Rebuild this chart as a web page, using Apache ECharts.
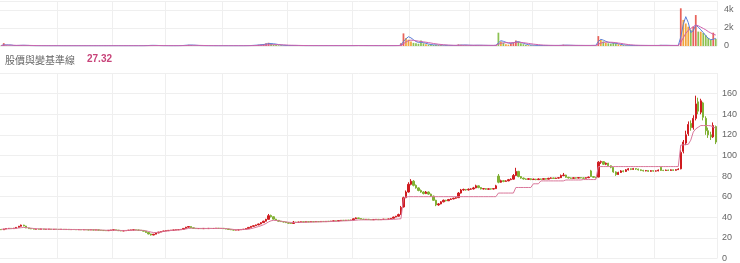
<!DOCTYPE html>
<html><head><meta charset="utf-8">
<script src="https://cdn.jsdelivr.net/npm/echarts/dist/echarts.min.js"></script>
<style>html,body{margin:0;padding:0;background:#fff}#c{width:740px;height:263px}</style>
</head><body><div id="c"></div>
<script>
const years = [2013,2014,2015,2016,2017,2018,2019,2020,2021,2022,2023,2024];
const periodsPerYear = [23,22,21,23,26,26,23,24,25,26,23,25];
const titleText = '股價與變基準線';
const titleValue = '27.32';
const volTicks = {min:0, max:5000, step:2000};
const priceTicks = {min:0, max:180, step:20};

// [open, close, low, high]
const ohlc = [
// y0
[28.2,27.9,27.6,28.4],[27.9,28.6,27.8,28.8],[28.6,29.1,28.4,29.3],[29.0,29.3,28.8,29.6],[29.3,29.0,28.8,29.5],[29.0,29.4,28.9,29.7],[29.4,30.2,29.2,30.5],[30.2,31.3,30.0,31.6],[31.3,32.4,31.0,32.9],[32.4,31.6,31.2,32.7],[31.5,29.7,29.4,31.7],[29.7,29.0,28.8,29.9],[29.0,28.8,28.5,29.2],[28.8,28.5,28.3,29.0],[28.5,28.6,28.3,28.9],[28.6,28.4,28.2,28.8],[28.4,28.7,28.3,28.9],[28.7,28.3,28.1,28.8],[28.3,28.4,28.1,28.6],[28.4,28.5,28.2,28.7],[28.5,28.2,28.0,28.6],[28.2,28.4,28.1,28.6],[28.4,28.3,28.1,28.5],
// y1
[28.3,28.2,28.0,28.5],[28.2,28.4,28.1,28.6],[28.4,28.1,27.9,28.5],[28.1,28.3,28.0,28.5],[28.3,28.0,27.8,28.4],[28.0,28.2,27.9,28.4],[28.2,28.1,27.9,28.3],[28.1,27.9,27.7,28.2],[27.9,28.1,27.8,28.3],[28.1,27.8,27.6,28.2],[27.8,28.0,27.7,28.2],[28.0,27.9,27.7,28.1],[27.9,27.7,27.5,28.0],[27.7,27.9,27.6,28.1],[27.9,27.6,27.4,28.0],[27.6,27.8,27.5,28.0],[27.8,27.5,27.3,27.9],[27.5,27.3,27.1,27.6],[27.3,27.1,26.9,27.4],[27.1,27.0,26.7,27.3],[27.0,27.3,26.9,27.5],[27.3,27.6,27.2,27.8],
// y2
[27.6,27.8,27.4,28.0],[27.8,27.5,27.3,27.9],[27.5,27.0,26.8,27.6],[27.0,26.8,26.5,27.1],[26.8,26.9,26.6,27.1],[26.9,27.2,26.8,27.4],[27.2,27.5,27.1,27.7],[27.5,27.7,27.4,27.9],[27.7,27.8,27.5,28.0],[27.8,27.6,27.4,27.9],[27.6,27.5,27.3,27.8],[27.5,27.2,27.0,27.6],[27.2,26.5,26.3,27.3],[26.5,25.2,25.0,26.6],[25.2,23.8,23.5,25.4],[23.8,22.8,22.3,24.0],[22.8,23.6,22.6,23.8],[23.6,24.8,23.5,25.0],[24.8,25.6,24.6,25.8],[25.6,26.2,25.4,26.4],[26.2,26.7,26.0,26.9],
// y3
[26.7,27.0,26.5,27.2],[27.0,27.3,26.9,27.5],[27.3,27.5,27.1,27.7],[27.5,27.6,27.3,27.8],[27.6,27.9,27.5,28.1],[27.9,28.0,27.7,28.2],[28.0,28.3,27.9,28.5],[28.3,29.2,28.2,29.4],[29.2,30.4,29.0,30.7],[30.4,31.0,30.1,31.4],[31.0,29.8,29.6,31.1],[29.8,29.2,29.0,30.0],[29.2,29.0,28.8,29.4],[29.0,29.1,28.8,29.3],[29.1,28.9,28.7,29.2],[28.9,29.2,28.8,29.4],[29.2,29.0,28.8,29.3],[29.0,29.3,28.9,29.5],[29.3,29.1,28.9,29.4],[29.1,29.2,28.9,29.4],[29.2,29.4,29.1,29.6],[29.4,29.1,28.9,29.5],[29.1,29.3,29.0,29.5],
// y4
[29.3,29.0,28.8,29.4],[29.0,28.6,28.4,29.1],[28.6,28.2,28.0,28.7],[28.2,27.8,27.6,28.3],[27.8,27.6,27.3,27.9],[27.6,27.7,27.4,27.9],[27.7,27.9,27.5,28.1],[27.9,28.2,27.8,28.4],[28.2,28.4,28.0,28.6],[28.4,29.0,28.3,29.2],[29.0,30.2,28.9,30.5],[30.2,31.2,30.0,31.5],[31.2,31.8,30.9,32.1],[31.8,32.6,31.5,32.9],[32.6,33.5,32.3,33.8],[33.5,34.8,33.2,35.2],[34.8,36.2,34.5,36.6],[36.2,38.0,35.9,38.5],[38.0,41.5,37.8,43.2],[41.8,40.5,39.8,42.6],[40.5,38.2,37.8,40.8],[38.2,37.0,36.6,38.5],[37.0,36.2,35.8,37.3],[36.2,35.8,35.4,36.5],[35.8,35.4,35.0,36.1],[35.4,34.8,34.4,35.6],
// y5
[34.8,34.2,33.9,35.0],[34.2,34.0,33.6,34.4],[34.0,35.3,33.9,36.4],[35.3,35.0,34.8,35.6],[35.0,35.4,34.9,35.6],[35.4,35.6,35.2,35.8],[35.6,35.3,35.1,35.7],[35.3,35.7,35.2,35.9],[35.7,35.5,35.3,35.8],[35.5,35.8,35.4,36.0],[35.8,35.6,35.4,35.9],[35.6,35.9,35.5,36.1],[35.9,35.7,35.5,36.0],[35.7,36.0,35.6,36.2],[36.0,35.8,35.6,36.1],[35.8,36.1,35.7,36.3],[36.1,36.0,35.8,36.3],[36.0,36.3,35.9,36.5],[36.3,36.5,36.1,36.7],[36.5,36.4,36.2,36.7],[36.4,36.8,36.3,37.0],[36.8,37.1,36.6,37.3],[37.1,36.9,36.7,37.2],[36.9,37.2,36.8,37.4],[37.2,37.0,36.8,37.3],[37.0,37.3,36.9,37.6],
// y6
[37.3,38.5,37.2,38.8],[38.5,39.4,38.3,39.9],[39.4,38.8,38.5,39.6],[38.8,38.2,38.0,39.0],[38.2,37.9,37.6,38.4],[37.9,38.1,37.7,38.3],[38.1,37.8,37.6,38.2],[37.8,37.6,37.4,38.0],[37.6,37.9,37.5,38.1],[37.9,38.0,37.7,38.2],[38.0,37.7,37.5,38.1],[37.7,37.9,37.6,38.1],[37.9,38.2,37.8,38.4],[38.2,38.0,37.8,38.3],[38.0,38.4,37.9,38.6],[38.4,39.0,38.3,39.3],[39.0,40.2,38.9,40.6],[40.2,41.0,40.0,41.4],[41.0,42.6,40.8,43.5],[42.6,49.5,42.4,51.0],[50.0,59.0,49.5,60.0],[59.0,64.5,58.5,66.0],[64.5,72.0,64.0,74.0],
// y7
[72.0,75.0,71.0,77.0],[75.0,71.0,70.0,76.0],[71.0,68.5,67.8,71.8],[68.5,66.0,65.2,69.0],[66.0,64.5,63.8,67.0],[64.5,63.0,62.2,65.2],[63.0,64.5,62.5,65.5],[64.5,62.5,61.8,65.0],[62.5,60.5,59.8,63.0],[60.5,56.5,56.0,61.0],[56.5,52.0,50.8,57.0],[52.0,53.0,51.2,53.8],[53.0,55.0,52.6,55.6],[55.0,56.5,54.5,57.2],[56.5,56.0,55.4,57.0],[56.0,57.2,55.8,57.8],[57.2,57.8,56.8,58.4],[57.8,58.5,57.4,59.0],[58.5,59.0,58.0,59.8],[59.0,63.5,58.8,64.5],[63.5,66.5,63.0,67.5],[66.5,67.0,65.8,67.8],[67.0,66.5,65.8,67.5],[66.5,67.2,66.0,68.0],
// y8
[67.2,67.5,66.6,68.2],[67.5,68.5,67.0,69.5],[68.5,70.5,68.2,71.6],[70.5,68.8,68.2,70.8],[68.8,67.5,67.0,69.2],[67.5,67.8,67.0,68.4],[67.8,67.2,66.6,68.2],[67.2,67.6,66.8,68.2],[67.6,67.4,66.8,68.0],[67.4,67.8,67.0,68.4],[67.8,70.5,67.4,71.5],[80.0,74.0,73.0,82.0],[74.0,75.5,73.5,76.5],[75.5,74.8,74.0,76.2],[74.8,75.3,74.4,76.0],[75.3,76.5,75.0,77.2],[76.5,77.0,76.0,77.8],[77.0,80.5,76.6,82.0],[80.5,84.5,80.0,88.0],[84.5,79.5,78.8,85.0],[79.5,78.0,77.4,80.0],[78.0,77.2,76.6,78.5],[77.2,76.8,76.2,77.6],[76.8,77.4,76.4,78.0],[77.4,76.6,76.0,77.8],
// y9
[76.6,77.0,76.2,77.5],[77.0,76.5,76.0,77.3],[76.5,77.2,76.2,77.8],[77.2,76.8,76.3,77.5],[76.8,77.5,76.5,78.0],[77.5,77.0,76.6,77.8],[77.0,77.8,76.8,78.3],[77.8,78.2,77.4,78.8],[78.2,77.6,77.2,78.5],[77.6,78.0,77.3,78.5],[78.0,78.4,77.6,79.0],[78.4,80.5,78.2,81.5],[80.5,81.0,79.8,83.0],[81.0,78.8,78.3,81.3],[78.8,78.2,77.6,79.2],[78.2,77.8,77.3,78.6],[77.8,78.3,77.5,78.8],[78.3,78.0,77.5,78.6],[78.0,78.5,77.7,79.0],[78.5,78.2,77.8,78.8],[78.2,77.9,77.4,78.6],[77.9,78.4,77.6,78.8],[78.4,79.0,78.0,79.5],[85.0,79.5,79.0,86.0],[79.5,78.8,78.2,80.0],[78.8,78.4,77.8,79.2],
// y10
[79.0,93.5,78.8,94.5],[93.5,94.0,91.8,95.0],[94.0,91.5,90.8,94.4],[91.5,92.5,90.6,93.2],[92.5,90.0,89.4,92.8],[90.0,88.5,87.6,90.4],[88.5,84.0,83.2,88.8],[84.0,81.5,80.2,84.6],[81.5,83.5,81.0,84.2],[83.5,85.0,83.0,85.8],[85.0,84.5,83.6,85.6],[84.5,86.0,84.0,86.8],[86.0,87.0,85.4,87.8],[87.0,86.5,85.8,87.4],[86.5,87.2,86.0,87.9],[87.2,86.8,86.0,87.6],[86.8,86.0,85.4,87.2],[86.0,85.5,84.8,86.4],[85.5,85.0,84.4,86.0],[85.0,85.3,84.6,85.9],[85.3,84.6,84.0,85.6],[84.6,85.2,84.2,85.8],[85.2,84.8,84.2,85.6],
// y11
[84.8,85.0,84.3,85.6],[85.0,85.8,84.6,86.4],[88.5,85.5,85.0,89.0],[85.5,85.4,84.8,86.0],[85.4,85.8,85.0,86.3],[85.8,85.5,85.0,86.2],[85.5,86.0,85.1,86.5],[86.0,85.6,85.0,86.3],[85.6,86.2,85.2,86.8],[86.2,86.8,85.9,87.6],
[87.0,103.0,86.5,105.0],[104.0,113.0,102.0,115.0],[112.0,120.0,110.0,124.0],[121.0,130.0,119.0,133.0],[131.0,127.0,124.0,134.0],[127.0,136.0,125.0,139.0],[136.0,150.0,134.0,158.0],[152.0,143.0,140.0,156.0],[142.0,153.0,140.0,155.0],[151.0,137.0,134.0,152.0],[136.0,124.0,120.0,138.0],[124.0,120.0,117.0,127.0],[120.0,118.0,115.0,123.0],[118.0,129.0,117.0,132.0],[128.0,113.0,111.0,129.0]
];

const baseline = [
28.3,28.5,28.7,28.9,29.0,29.1,29.3,29.6,29.9,30.1,30.0,29.7,29.4,29.1,28.9,28.8,28.7,28.6,28.6,28.5,28.5,28.4,28.4,
28.3,28.3,28.2,28.2,28.2,28.1,28.1,28.1,28.0,28.0,28.0,27.9,27.9,27.9,27.8,27.8,27.7,27.6,27.5,27.4,27.4,27.5,
27.5,27.4,27.3,27.2,27.2,27.2,27.3,27.4,27.5,27.5,27.5,27.4,27.2,26.8,26.2,25.6,25.2,25.2,25.4,25.8,26.2,
26.6,26.9,27.2,27.4,27.6,27.8,28.0,28.3,28.7,29.2,29.4,29.4,29.3,29.2,29.2,29.2,29.1,29.1,29.1,29.1,29.2,29.2,29.2,
29.1,29.0,28.8,28.5,28.2,28.0,28.0,28.0,28.1,28.2,28.5,29.0,29.6,30.3,31.0,31.8,32.8,34.0,35.5,36.6,37.0,36.9,36.6,36.2,35.8,35.5,
35.2,35.0,34.9,34.9,35.0,35.1,35.2,35.2,35.3,35.4,35.4,35.5,35.5,35.6,35.7,35.7,35.8,35.9,36.0,36.1,36.2,36.4,36.5,36.6,36.7,36.8,
37.0,37.2,37.4,37.5,37.5,37.5,37.5,37.5,37.5,37.6,37.6,37.6,37.7,37.7,37.8,37.9,38.0,38.2,38.4,38.6,58.5,59.6,60.0,
60.0,60.0,60.0,60.0,60.0,60.0,60.0,60.0,60.0,60.0,60.0,60.0,60.0,60.0,60.0,60.0,60.0,60.0,60.0,60.0,60.0,60.0,60.0,60.0,
60.0,60.0,60.0,60.0,60.0,60.0,60.0,60.0,60.0,60.0,60.0,63.5,63.5,63.5,63.5,63.5,63.5,63.5,68.9,68.9,68.9,68.9,68.9,68.9,68.9,
72.5,72.5,72.5,75.3,75.3,75.3,75.3,75.3,75.3,75.3,75.3,75.3,75.3,76.2,76.2,76.2,76.2,76.2,76.2,76.2,76.6,76.6,76.6,76.6,76.6,76.6,
89.2,89.2,89.2,89.2,89.2,89.2,89.2,89.2,89.2,89.2,89.2,89.2,89.2,89.2,89.2,89.2,89.2,89.2,89.2,89.2,89.2,89.2,89.2,
89.2,89.2,89.2,89.2,89.2,89.2,89.2,89.2,89.2,89.2,110.0,110.3,110.5,110.8,114.8,122.7,125.8,127.4,129.0,129.0,129.0,129.0,128.8,127.5,126.5
];

const volume = [
60,320,80,50,40,40,60,80,90,70,50,40,30,30,30,30,30,30,30,30,30,30,30,
30,25,30,25,30,25,30,25,30,25,30,25,30,25,30,25,30,25,30,30,35,30,
30,30,35,30,30,30,30,30,30,30,30,30,40,60,80,90,60,50,40,35,30,
30,30,30,30,30,40,50,80,120,140,100,60,40,35,30,30,30,30,30,30,30,30,30,
30,30,30,30,30,30,30,30,30,40,60,80,100,120,150,180,220,300,360,250,160,120,90,70,60,50,
50,60,80,50,40,40,40,40,40,40,40,40,40,40,40,40,40,40,40,40,40,40,40,40,40,40,
50,70,50,40,40,40,40,40,40,40,40,40,40,40,40,40,50,60,80,300,1400,900,700,
500,350,300,250,600,300,200,150,150,120,150,120,100,80,70,60,60,60,60,180,150,100,80,70,
70,80,120,90,70,60,60,60,60,60,100,1480,500,350,200,150,300,400,600,500,300,200,120,100,80,
70,60,60,60,60,60,60,60,60,60,70,100,150,90,70,60,60,60,60,60,60,60,60,60,80,70,
1100,700,500,350,300,250,350,300,200,150,100,80,70,60,60,60,60,60,60,60,60,60,60,
60,60,120,70,60,60,60,60,60,80,4190,2900,2500,2150,1800,2150,3440,1600,1590,1450,1200,900,700,1480,800
];

const volMaShort = [
60,120,130,120,110,60,55,65,75,80,70,60,45,35,30,30,30,30,30,30,30,30,30,
30,28,28,28,28,28,28,28,28,28,28,28,28,28,28,28,28,28,28,29,31,31,
31,31,32,31,30,30,30,30,30,30,30,30,32,40,55,70,72,66,56,45,36,
32,30,30,30,32,36,45,60,84,100,110,100,80,60,45,35,30,30,30,30,30,30,30,
30,30,30,30,30,30,30,30,30,33,40,55,70,90,110,140,170,210,260,270,250,210,160,115,85,65,
55,55,60,60,55,50,45,40,40,40,40,40,40,40,40,40,40,40,40,40,40,40,40,40,40,40,
42,48,50,50,48,45,40,40,40,40,40,40,40,40,40,40,42,45,55,100,500,800,1030,
900,700,500,400,420,380,300,220,160,130,120,110,100,90,80,70,65,60,60,80,100,110,110,95,
80,75,80,85,80,75,70,65,62,62,70,350,590,520,420,320,300,350,450,480,400,300,220,150,110,
90,75,65,62,60,60,60,60,60,60,62,70,85,95,90,80,70,62,60,60,60,60,60,60,65,68,
500,740,650,520,420,350,330,300,250,180,130,100,80,70,62,60,60,60,60,60,60,60,60,
60,60,75,75,75,70,62,60,60,65,1000,2400,3260,2600,1500,1700,2330,2100,1800,1500,1150,850,700,750,850
];

const volMaLong = [
50,80,90,90,90,80,70,68,68,70,70,68,62,55,48,42,38,35,33,32,31,30,30,
30,30,29,29,29,28,28,28,28,28,28,28,28,28,28,28,28,28,28,28,29,29,
30,30,30,30,30,30,30,30,30,30,30,30,31,34,38,44,48,50,50,48,45,
42,40,38,36,35,35,37,42,50,60,68,72,72,70,65,58,52,45,40,36,33,31,30,
30,30,30,30,30,30,30,30,30,31,34,38,44,52,62,74,88,105,125,140,148,150,145,135,122,108,
95,85,78,72,66,60,55,50,47,45,43,42,41,40,40,40,40,40,40,40,40,40,40,40,40,40,
41,43,44,45,45,45,44,43,42,41,40,40,40,40,40,40,41,42,45,60,250,450,600,
650,620,580,540,500,460,420,380,330,280,240,200,170,140,120,100,90,80,75,75,78,80,82,82,
80,78,78,78,77,76,74,72,70,68,80,200,300,350,370,370,360,370,400,420,400,370,330,290,250,
210,180,150,120,100,90,80,72,68,65,64,65,68,72,74,74,72,70,68,66,64,62,62,62,63,64,
200,320,400,430,430,420,400,370,330,290,250,200,160,130,110,90,80,72,68,65,62,60,60,
60,60,62,64,64,64,63,62,62,62,400,900,1400,1750,1950,2150,2330,2250,2100,1950,1800,1600,1450,1300,1220
];

// ---- build ----
const categories = [];
years.forEach((y, k) => { for (let j = 1; j <= periodsPerYear[k]; j++) categories.push(y + '-' + j); });
const isYearStart = (idx, val) => idx > 0 && String(val).split('-')[1] === '1';

const UP = '#cf1b1f', DOWN = '#80b034';
const VOL_UP = '#e8625a', VOL_UP_LESS = '#f2a33a', VOL_DOWN = '#8cc152';
const volData = volume.map((v, i) => {
  const o = ohlc[i][0], c = ohlc[i][1];
  let col;
  if (c < o) col = VOL_DOWN;
  else if (i > 0 && v < volume[i - 1]) col = VOL_UP_LESS;
  else col = VOL_UP;
  return { value: v, itemStyle: { color: col } };
});

const gridColor = '#efefef';
const xBase = (gi) => ({
  type: 'category', gridIndex: gi, data: categories, boundaryGap: true,
  axisLine: { show: false }, axisTick: { show: false }, axisLabel: { show: false },
  splitLine: { show: true, interval: isYearStart, lineStyle: { color: gridColor, width: 1 } }
});

const chart = echarts.init(document.getElementById('c'), null, { renderer: 'canvas' });
chart.setOption({
  animation: false,
  backgroundColor: '#fff',
  grid: [
    { left: 0, right: 23, top: 1, height: 45 },
    { left: 0, right: 23, top: 73, bottom: 1 }
  ],
  xAxis: [xBase(0), xBase(1)],
  yAxis: [
    { gridIndex: 0, position: 'right', min: volTicks.min, max: volTicks.max, interval: volTicks.step,
      axisLine: { show: false }, axisTick: { show: false },
      splitLine: { lineStyle: { color: gridColor } },
      axisLabel: { fontSize: 9, color: '#666', margin: 7, showMaxLabel: false, fontFamily: 'Arial, Liberation Sans, sans-serif',
        formatter: v => v === 0 ? '0' : (v / 1000) + 'k' } },
    { gridIndex: 1, position: 'right', min: priceTicks.min, max: priceTicks.max, interval: priceTicks.step,
      axisLine: { show: false }, axisTick: { show: false },
      splitLine: { lineStyle: { color: gridColor } },
      axisLabel: { fontSize: 9, color: '#666', margin: 5, showMaxLabel: false, fontFamily: 'Arial, Liberation Sans, sans-serif' } }
  ],
  series: [
    { type: 'bar', xAxisIndex: 0, yAxisIndex: 0, data: volData, barWidth: '70%' },
    { type: 'line', xAxisIndex: 0, yAxisIndex: 0, data: volMaShort, showSymbol: false, symbol: 'none',
      lineStyle: { width: 1, color: '#5b80d8' }, z: 3 },
    { type: 'line', xAxisIndex: 0, yAxisIndex: 0, data: volMaLong, showSymbol: false, symbol: 'none',
      lineStyle: { width: 1, color: '#d062ac' }, z: 4 },
    { type: 'candlestick', xAxisIndex: 1, yAxisIndex: 1, data: ohlc, barWidth: '75%',
      itemStyle: { color: UP, color0: DOWN, borderColor: UP, borderColor0: DOWN, borderWidth: 1 } },
    { type: 'line', xAxisIndex: 1, yAxisIndex: 1, data: baseline, showSymbol: false, symbol: 'none',
      lineStyle: { width: 1, color: '#d9779a' }, z: 3 }
  ],
  graphic: [
    { type: 'text', left: 5, top: 55, style: { text: titleText, fontSize: 10, fill: '#666',
      fontFamily: '"Noto Sans CJK TC", sans-serif' } },
    { type: 'text', left: 87, top: 54, style: { text: titleValue, fontSize: 10, fill: '#c8447a', fontWeight: 'bold',
      fontFamily: 'Arial, Liberation Sans, sans-serif' } }
  ]
});
</script>
</body></html>
